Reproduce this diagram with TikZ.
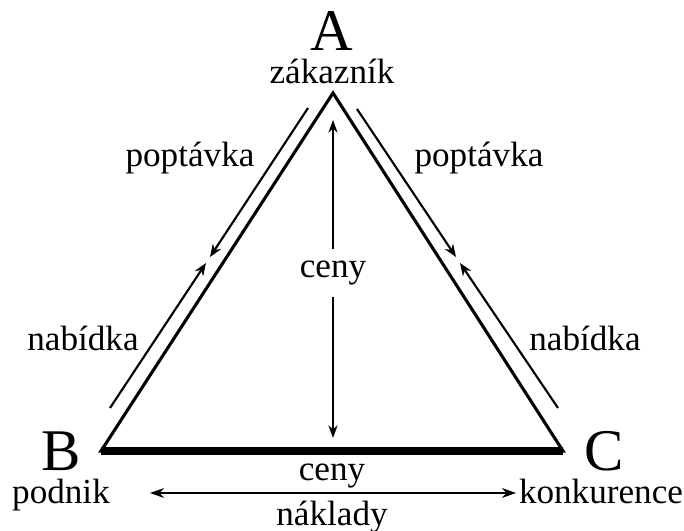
\documentclass[tikz,border=0pt]{standalone}
\usepackage{fontspec}
\setmainfont{Liberation Serif}
\usetikzlibrary{arrows.meta,positioning,calc}
\tikzset{
  cornerletter/.style={
    font=\fontsize{42}{50}\selectfont, anchor=base, inner sep=0pt
  },
  sidelabel/.style={
    font=\fontsize{25}{30}\selectfont, anchor=base, inner sep=0pt
  },
  flowarrow/.style={
    -{Stealth[length=9pt,width=7pt]}, line width=1.5pt
  },
  pricearrow/.style={
    -{Stealth[length=9pt,width=6.5pt]}, line width=1.1pt
  },
  twoway/.style={
    {Stealth[length=10pt,width=7pt]}-{Stealth[length=10pt,width=7pt]}, line width=1.2pt
  },
  edge/.style={line width=2.2pt, line join=miter}
}

\begin{document}
\begin{tikzpicture}[x=0.025cm, y=-0.025cm]
  \useasboundingbox (0,0) rectangle (684,531);

  % Corners of the triangle
  \coordinate (tA) at (333,93);
  \coordinate (tB) at (101,451);
  \coordinate (tC) at (563,451);

  % Triangle
  \draw[edge] (tA) -- (tB) -- (tC) -- cycle;
  \draw[line width=5.7pt] (tB) -- (tC);

  % Letters and names
  \node[cornerletter] (A) at (332,51) {A};
  \node[sidelabel] (zak) at (332,84) {zákazník};
  \node[cornerletter] (B) at (61,470) {B};
  \node[sidelabel] (pod) at (61,503) {podnik};
  \node[cornerletter] (C) at (604,470) {C};
  \node[sidelabel] (kon) at (601,503) {konkurence};

  % Left side flows
  \coordinate (lTop) at (308,108);
  \coordinate (lMidA) at (210,257);
  \coordinate (lMidB) at (206,263);
  \coordinate (lBot) at (110,408);
  \draw[flowarrow] (lTop) -- (lMidA);
  \draw[flowarrow] (lBot) -- (lMidB);
  \node[sidelabel] (popL) at (190,167) {poptávka};
  \node[sidelabel] (nabL) at (83,350) {nabídka};

  % Right side flows
  \coordinate (rTop) at (357,109);
  \coordinate (rMidA) at (456,257);
  \coordinate (rMidB) at (460,263);
  \coordinate (rBot) at (558,408);
  \draw[flowarrow] (rTop) -- (rMidA);
  \draw[flowarrow] (rBot) -- (rMidB);
  \node[sidelabel] (popR) at (479,167) {poptávka};
  \node[sidelabel] (nabR) at (585,350) {nabídka};

  % Prices inside
  \coordinate (vTop) at (333,120);
  \coordinate (vBot) at (333,438);
  \node[font=\fontsize{25}{30}\selectfont, inner xsep=0pt, inner ysep=8pt] (cenyV) at (333,273) {ceny};
  \draw[pricearrow] (cenyV) -- (vTop);
  \draw[pricearrow] (cenyV) -- (vBot);

  % Bottom arrow
  \coordinate (hL) at (150,493);
  \coordinate (hR) at (516,493);
  \draw[twoway] (hL) -- (hR);
  \node[sidelabel] (cenyH) at (332,480) {ceny};
  \node[sidelabel] (nak) at (332,525) {náklady};
\end{tikzpicture}
\end{document}
